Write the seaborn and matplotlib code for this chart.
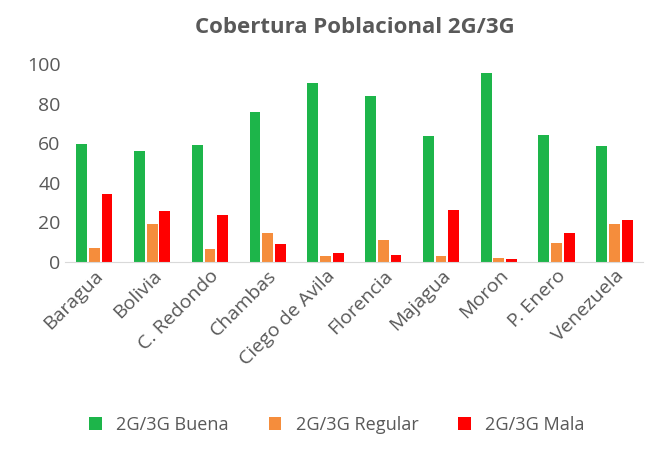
import pandas as pd
import matplotlib.pyplot as plt
import seaborn as sns

municipios = ["Baragua", "Bolivia", "C. Redondo", "Chambas", "Ciego de Avila",
              "Florencia", "Majagua", "Moron", "P. Enero", "Venezuela"]
buena = [59.5, 56, 59, 75.5, 90.5, 84, 63.5, 95.5, 64, 58.5]
regular = [7, 19, 6.5, 14.5, 3, 11, 3, 2, 9.5, 19]
mala = [34, 25.5, 23.5, 9, 4.5, 3.5, 26, 1.5, 14.5, 21]

series = ["2G/3G Buena", "2G/3G Regular", "2G/3G Mala"]
df = pd.DataFrame({"municipio": municipios, series[0]: buena,
                   series[1]: regular, series[2]: mala})
long = df.melt(id_vars="municipio", var_name="serie", value_name="valor")

gray = "#595959"
plt.rcParams["font.family"] = "Open Sans"
fig = plt.figure(figsize=(6.68, 4.51), dpi=100)
ax = fig.add_axes([0.098, 0.42, 0.865, 0.438])
sns.barplot(data=long, x="municipio", y="valor", hue="serie", ax=ax,
            palette=["#1DB54A", "#F58D3C", "#FF0000"], width=0.66, gap=0.15,
            saturation=1)

ax.set_ylim(0, 100)
ax.set_yticks(range(0, 101, 20))
ax.set_xlabel("")
ax.set_ylabel("")
for s in ["top", "right", "left"]:
    ax.spines[s].set_visible(False)
ax.spines["bottom"].set_color("#D9D9D9")
ax.tick_params(axis="both", length=0, labelsize=14, colors=gray)
plt.setp(ax.get_xticklabels(), rotation=45, ha="right", rotation_mode="anchor")
ax.set_title("Cobertura Poblacional 2G/3G", fontsize=16, fontweight="bold",
             color=gray, pad=22)
ax.legend(loc="upper center", bbox_to_anchor=(0.47, -0.7), ncol=3,
          frameon=False, fontsize=13, labelcolor=gray, handlelength=0.7,
          handleheight=0.7, columnspacing=2.2)
fig.savefig("out.png", dpi=100)
